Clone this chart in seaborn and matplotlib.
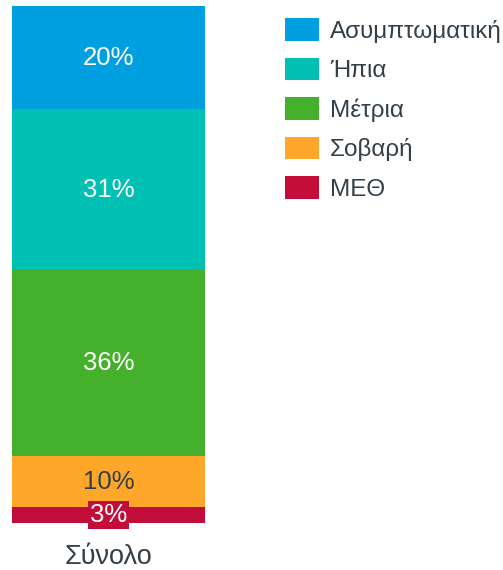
import matplotlib
matplotlib.use('Agg')
import matplotlib.pyplot as plt
import seaborn as sns
from matplotlib.patches import Patch

# Data (bottom to top of the stack)
categories = ['ΜΕΘ', 'Σοβαρή', 'Μέτρια', 'Ήπια', 'Ασυμπτωματική']
values = [3, 10, 36, 31, 20]
colors = ['#C20C3A', '#FFA72A', '#45B02C', '#00BFB3', '#00A0E0']
label_colors = ['white', '#333F48', 'white', 'white', 'white']
group = ['Σύνολο']

sns.set_style('white')
plt.rcParams['font.family'] = ['Liberation Sans', 'DejaVu Sans']
text_color = '#333F48'

fig = plt.figure(figsize=(5.03, 5.70), dpi=100)
ax = fig.add_axes([12 / 503, 1 - 523 / 570, 193 / 503, 517 / 570])

bottom = 0
for cat, val, col, lc in zip(categories, values, colors, label_colors):
    sns.barplot(x=group, y=[val], bottom=bottom, color=col, width=1.0,
                saturation=1, ax=ax, edgecolor='none', linewidth=0)
    mid = bottom + val / 2
    if val < 5:
        ax.text(0, mid, f'{val}%', ha='center', va='center', fontsize=18.5,
                color=lc, bbox=dict(facecolor=col, edgecolor='none', pad=1.5))
    else:
        ax.text(0, mid, f'{val}%', ha='center', va='center', fontsize=18.5, color=lc)
    bottom += val

ax.set_xlim(-0.5, 0.5)
ax.set_ylim(0, 100)
ax.set_yticks([])
ax.tick_params(axis='x', length=0, labelsize=19.5, labelcolor=text_color, pad=15)
sns.despine(ax=ax, left=True, bottom=True)
ax.set_xlabel('')
ax.set_ylabel('')

handles = [Patch(facecolor=c, edgecolor='none') for c in colors[::-1]]
fig.legend(handles, categories[::-1], loc='upper left',
           bbox_to_anchor=(285 / 503, 1 - 18 / 570), frameon=False,
           fontsize=17.5, handlelength=1.4, handleheight=1.07,
           handletextpad=0.45, labelspacing=0.61, borderpad=0, borderaxespad=0,
           labelcolor=text_color)

fig.savefig('out.png', dpi=100)
